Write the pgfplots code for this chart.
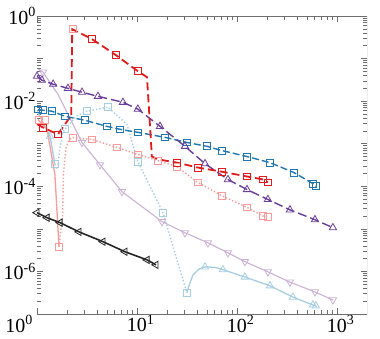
\documentclass[border=0pt]{standalone}
\usepackage{pgfplots}
\pgfplotsset{compat=1.18}
\usepackage{fontspec}
\setmainfont{Liberation Serif}
\definecolor{cRed}{HTML}{E31A1C}
\definecolor{cPink}{HTML}{FB9A99}
\definecolor{cBlue}{HTML}{1F78B4}
\definecolor{cLBlue}{HTML}{A6CEE3}
\definecolor{cPurple}{HTML}{6A3D9A}
\definecolor{cLPurple}{HTML}{CAB2D6}
\definecolor{axgray}{HTML}{6E6E6E}
\pgfplotsset{
  sq/.style={mark=square, mark size=3.4pt, mark options={solid, fill=none, line width=0.8pt}},
  tru/.style={mark=triangle, mark size=4.2pt, mark options={solid, fill=none, line width=0.8pt}},
  trd/.style={mark=triangle, mark size=4.2pt, mark options={solid, fill=none, rotate=180, line width=0.8pt}},
  trl/.style={mark=triangle, mark size=4.2pt, mark options={solid, fill=none, rotate=90, line width=0.8pt}},
}
\begin{document}
\begin{tikzpicture}
\begin{axis}[
    scale only axis,
    width=330pt, height=298pt,
    xmode=log, ymode=log,
    xmin=1, xmax=2000,
    ymin=1e-7, ymax=1,
    axis line style={draw=none},
    tick style={axgray, line width=0.6pt},
    major tick length=6pt,
    minor tick length=4pt,
    tick label style={font=\fontsize{20}{24}\selectfont, inner sep=1pt},
    xtick={1,10,100,1000},
    minor xtick={2,3,4,5,6,7,8,9,20,30,40,50,60,70,80,90,200,300,400,500,600,700,800,900},
    xticklabels={\llap{10\textsuperscript{0}\hspace{4pt}}, 10\rlap{\textsuperscript{1}}, 10\rlap{\textsuperscript{2}}, 10\rlap{\textsuperscript{3}}},
    ytick={1e-7,1e-6,1e-5,1e-4,1e-3,1e-2,1e-1,1},
    minor ytick={2e-7,3e-7,4e-7,5e-7,6e-7,7e-7,8e-7,9e-7,
                 2e-6,3e-6,4e-6,5e-6,6e-6,7e-6,8e-6,9e-6,
                 2e-5,3e-5,4e-5,5e-5,6e-5,7e-5,8e-5,9e-5,
                 2e-4,3e-4,4e-4,5e-4,6e-4,7e-4,8e-4,9e-4,
                 2e-3,3e-3,4e-3,5e-3,6e-3,7e-3,8e-3,9e-3,
                 0.02,0.03,0.04,0.05,0.06,0.07,0.08,0.09,
                 0.2,0.3,0.4,0.5,0.6,0.7,0.8,0.9},
    yticklabels={,10\textsuperscript{-6},,10\textsuperscript{-4},,10\textsuperscript{-2},,10\textsuperscript{0}},
]
% light purple, solid, down triangles
\addplot[cLPurple, line width=1.1pt, no marks] coordinates {
 (1.03,0.056)(1.15,0.048)(1.62,0.0145)(2.82,1.07e-3)(4.27,3.2e-4)(7.08,7.5e-5)
 (17.8,1.48e-5)(30.2,8.1e-6)(51.3,4.7e-6)(81.3,2.74e-6)(120,1.7e-6)(204,9.8e-7)
 (339,5.6e-7)(603,3.3e-7)(912,2.14e-7)};
\addplot[cLPurple, only marks, trd] coordinates {
 (1.15,0.048)(2.82,1.07e-3)(4.27,3.2e-4)(7.08,7.5e-5)(17.8,1.48e-5)(30.2,8.1e-6)
 (51.3,4.7e-6)(81.3,2.74e-6)(120,1.7e-6)(204,9.8e-7)(339,5.6e-7)(603,3.3e-7)(912,2.14e-7)};
% light blue, solid, triangles
\addplot[cLBlue, line width=1.3pt, no marks] coordinates {
 (1.0,6e-3)(1.35,1.5e-3)(1.51,3.3e-4)};
\addplot[cLBlue, line width=1.3pt, no marks] coordinates {
 (31.6,3.1e-7)(33,4.5e-7)(36.3,8.3e-7)(42,1.15e-6)(47.9,1.28e-6)(60,1.25e-6)
 (72.4,1.1e-6)(120,7.4e-7)(214,4.6e-7)(363,2.5e-7)(575,1.63e-7)(617,1.55e-7)};
\addplot[cLBlue, only marks, tru] coordinates {
 (1.35,1.5e-3)(47.9,1.28e-6)(72.4,1.1e-6)(120,7.4e-7)(214,4.6e-7)(363,2.5e-7)
 (575,1.63e-7)(617,1.55e-7)};
% light blue, dotted, squares
\addplot[cLBlue, line width=1.4pt, dotted, no marks] coordinates {
 (1.51,3.3e-4)(1.6,2.5e-4)(1.7,8e-4)(1.82,1.9e-3)(1.91,2.2e-3)(2.5,4.5e-3)
 (3.16,5.8e-3)(5.13,7.2e-3)(7.94,2.85e-3)(10.2,3.8e-4)(18.2,2.4e-5)(31.6,3.1e-7)};
\addplot[cLBlue, only marks, sq] coordinates {
 (1.51,3.3e-4)(1.91,2.2e-3)(3.16,5.8e-3)(5.13,7.2e-3)(10.2,3.8e-4)(18.2,2.4e-5)(31.6,3.1e-7)};
% pink, solid then dotted, squares
\addplot[cPink, line width=1.3pt, no marks] coordinates {
 (1.02,3.7e-3)(1.26,2.2e-3)(1.51,1.9e-4)(1.66,3.8e-6)};
\addplot[cPink, line width=1.4pt, dotted, no marks] coordinates {
 (1.66,3.8e-6)(1.8,2e-5)(1.84,2e-4)(1.95,8e-4)(2.1,1.25e-3)(2.29,1.4e-3)(3.55,1.26e-3)
 (6.3,8.2e-4)(10.2,5.6e-4)(16.2,4.0e-4)(25.1,2.9e-4)(40.7,1.23e-4)(70.8,6.0e-5)
 (126,3.2e-5)(182,2.0e-5)(204,1.94e-5)};
\addplot[cPink, only marks, sq] coordinates {
 (1.05,3.7e-3)(1.2,3.7e-3)(1.66,3.8e-6)(2.29,1.4e-3)(3.55,1.26e-3)(6.3,8.2e-4)
 (10.2,5.6e-4)(16.2,4.0e-4)(25.1,2.9e-4)(40.7,1.23e-4)(70.8,6.0e-5)(126,3.2e-5)
 (182,2.0e-5)(204,1.94e-5)(2.29,0.49)};
% black, left triangles
\addplot[black!85, line width=1.6pt, trl] coordinates {
 (1.0,2.4e-5)(1.26,1.83e-5)(1.70,1.4e-5)(2.63,8.5e-6)(4.57,5.0e-6)(7.59,2.9e-6)
 (12.6,1.87e-6)(15.5,1.43e-6)};
% blue, dashed, squares
\addplot[cBlue, line width=1.4pt, dash pattern=on 7pt off 3pt, sq] coordinates {
 (1.02,6.4e-3)(1.15,6.1e-3)(1.41,5.8e-3)(1.91,4.4e-3)(3.02,3.55e-3)(5.0,2.56e-3)
 (6.76,2.18e-3)(10.2,1.85e-3)(19.1,1.41e-3)(31.6,1.07e-3)(50.1,8.7e-4)(70.8,6.9e-4)
 (126,5.0e-4)(214,3.6e-4)(372,2.1e-4)(575,1.16e-4)(617,1.0e-4)};
% purple, dashed, triangles
\addplot[cPurple, line width=1.4pt, dash pattern=on 9pt off 4pt, tru] coordinates {
 (1.0,0.0385)(1.12,0.031)(1.45,0.025)(2.04,0.02)(2.82,0.0162)(4.07,0.013)(7.24,9.4e-3)
 (10.2,6.5e-3)(17,2.56e-3)(30.2,8.7e-4)(47.9,3.4e-4)(81.3,1.44e-4)(126,8.4e-5)
 (204,4.9e-5)(339,2.8e-5)(603,1.64e-5)(912,1.07e-5)};
% red, dashed, squares
\addplot[cRed, line width=1.8pt, dash pattern=on 8pt off 4pt, no marks] coordinates {
 (1.0,2.9e-3)(1.15,2.4e-3)(1.62,1.66e-3)(2.09,3.9e-3)(2.2,4.0e-3)(2.25,0.49)(3.55,0.287)
 (6.17,0.12)(10.2,0.0506)(12.6,0.0365)(14.1,5e-4)(16.2,4.3e-4)(25.1,3.6e-4)
 (40.7,2.75e-4)(70.8,2.2e-4)(126,1.7e-4)(182,1.45e-4)(204,1.23e-4)};
\addplot[cRed, only marks, sq] coordinates {
 (1.15,2.4e-3)(1.62,1.66e-3)(3.55,0.287)(6.17,0.12)(10.2,0.0506)(25.1,3.6e-4)
 (40.7,2.75e-4)(70.8,2.2e-4)(126,1.7e-4)(182,1.45e-4)(204,1.23e-4)};
% frame: bottom, right, top
\draw[axgray, line width=0.8pt] (rel axis cs:0,0) -- (rel axis cs:1,0) -- (rel axis cs:1,1) -- (rel axis cs:0,1);
\end{axis}
\pgfresetboundingbox
\path[use as bounding box] ([shift={(-37pt,-24pt)}]current axis.south west) rectangle ([shift={(13pt,16pt)}]current axis.north east);
\end{tikzpicture}
\end{document}
